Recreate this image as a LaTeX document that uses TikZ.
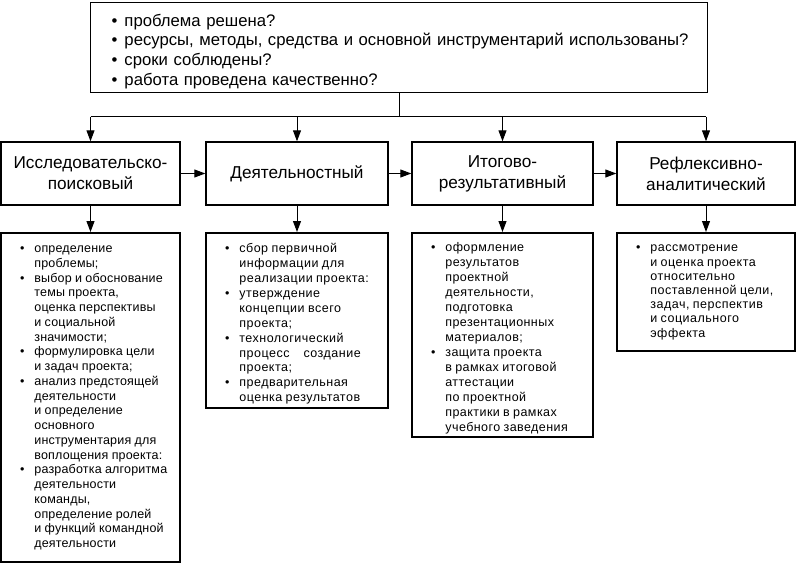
\documentclass[tikz,border=0pt]{standalone}
\usepackage{fontspec}
\setmainfont{Liberation Sans}
\usetikzlibrary{arrows.meta}
\newcommand\bl{\textbullet}
\newcommand\dn[2]{\raisebox{-#1}[\height][\depth]{#2}}
\begin{document}
\begin{tikzpicture}[x=1pt,y=-1pt,
  topbox/.style={draw, line width=1.3pt, anchor=north west, inner xsep=21pt, inner ysep=0pt,
     text width=575pt, minimum height=90pt, align=left, font=\fontsize{16.7}{19.7}\selectfont},
  box/.style={draw, line width=1.4pt, inner sep=0pt, minimum height=63pt, align=center,
     font=\fontsize{17.2}{21}\selectfont},
  lst/.style={draw, line width=1.5pt, anchor=north, inner xsep=19pt, inner ysep=0pt, align=left},
  ln/.style={line width=1pt},
  arr/.style={line width=1pt, -{Triangle[length=11pt,width=8pt]}}]
\useasboundingbox (0,0) rectangle (797,564);

\node[topbox] (top) at (90,2) {\dn{4pt}{%
  \begin{tabular}{@{}l@{\hspace{7pt}}l@{}}
  \bl & проблема решена?\\
  \bl & ресурсы, методы, средства и основной инструментарий использованы?\\
  \bl & сроки соблюдены?\\
  \bl & работа проведена качественно?
  \end{tabular}}};

\node[box, minimum width=179pt] (a1) at (90.5,173.5) {Исследовательско-\\поисковый};
\node[box, minimum width=182pt] (a2) at (297,173.5) {Деятельностный};
\node[box, minimum width=181pt] (a3) at (502.5,173.5) {Итогово-\\результативный};
\node[box, minimum width=178pt] (a4) at (706,173.5) {Рефлексивно-\\аналитический};

\node[lst, minimum width=179pt, text width=141pt, minimum height=329pt] (b1) at (90.5,232) {%
  \fontsize{12.5}{14.75}\selectfont\addfontfeature{LetterSpace=1.5}%
  \begin{tabular}{@{}l@{\hspace{10pt}}l@{}}
  \bl & определение\\
      & проблемы;\\
  \bl & выбор и обоснование\\
      & темы проекта,\\
      & оценка перспективы\\
      & и социальной\\
      & значимости;\\
  \bl & формулировка цели\\
      & и задач проекта;\\
  \bl & анализ предстоящей\\
      & деятельности\\
      & и определение\\
      & основного\\
      & инструментария для\\
      & воплощения проекта:\\
  \bl & разработка алгоритма\\
      & деятельности\\
      & команды,\\
      & определение ролей\\
      & и функций командной\\
      & деятельности
  \end{tabular}};

\node[lst, minimum width=182pt, text width=144pt, minimum height=175pt] (b2) at (297,232) {%
  \fontsize{12.5}{14.9}\selectfont\addfontfeature{LetterSpace=4}%
  \dn{4pt}{\begin{tabular}{@{}l@{\hspace{10pt}}l@{}}
  \bl & сбор первичной\\
      & информации для\\
      & реализации проекта:\\
  \bl & утверждение\\
      & концепции всего\\
      & проекта;\\
  \bl & технологический\\
      & процесс\hspace{14pt}создание\\
      & проекта;\\
  \bl & предварительная\\
      & оценка результатов
  \end{tabular}}};

\node[lst, minimum width=181pt, text width=143pt, minimum height=204pt] (b3) at (502.5,232) {%
  \fontsize{12.5}{15}\selectfont\addfontfeature{LetterSpace=3.5}%
  \dn{4pt}{\begin{tabular}{@{}l@{\hspace{10pt}}l@{}}
  \bl & оформление\\
      & результатов\\
      & проектной\\
      & деятельности,\\
      & подготовка\\
      & презентационных\\
      & материалов;\\
  \bl & защита проекта\\
      & в рамках итоговой\\
      & аттестации\\
      & по проектной\\
      & практики в рамках\\
      & учебного заведения
  \end{tabular}}};

\node[lst, minimum width=178pt, text width=140pt, minimum height=118pt] (b4) at (706,232) {%
  \fontsize{12.5}{14.2}\selectfont\addfontfeature{LetterSpace=4}%
  \begin{tabular}{@{}l@{\hspace{10pt}}l@{}}
  \bl & рассмотрение\\
      & и оценка проекта\\
      & относительно\\
      & поставленной цели,\\
      & задач, перспектив\\
      & и социального\\
      & эффекта
  \end{tabular}};

\coordinate (bus) at (0,117);
\draw[ln] (top.south) -- (top.south |- bus);
\draw[ln] (a1.north |- bus) -- (a4.north |- bus);
\foreach \i in {1,2,3,4} {
  \draw[arr] (a\i.north |- bus) -- (a\i.north);
  \draw[arr] (a\i.south) -- (b\i.north);
}
\draw[arr] (a1) -- (a2);
\draw[arr] (a2) -- (a3);
\draw[arr] (a3) -- (a4);
\end{tikzpicture}
\end{document}
